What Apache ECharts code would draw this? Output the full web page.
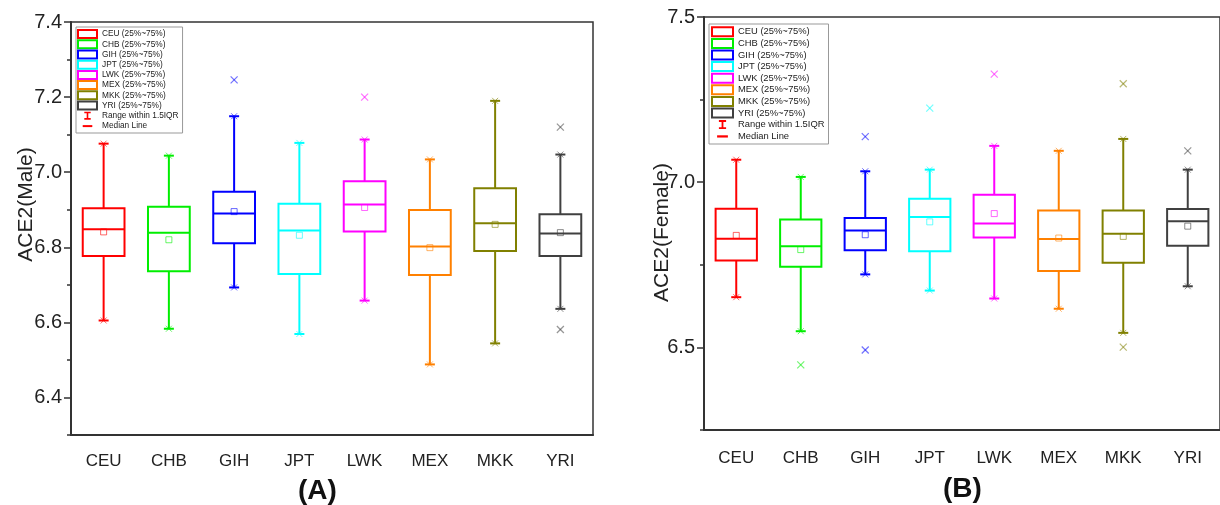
<!DOCTYPE html>
<html>
<head>
<meta charset="utf-8">
<script src="https://cdn.jsdelivr.net/npm/echarts@6/dist/echarts.min.js"></script>
<style>
html, body { margin: 0; padding: 0; background: #fff; }
#chart { width: 1220px; height: 505px; }
</style>
</head>
<body>
<div id="chart"></div>
<script>
// 分组
const groups = ['CEU', 'CHB', 'GIH', 'JPT', 'LWK', 'MEX', 'MKK', 'YRI']
const groupColors = ['#ff0000', '#00ee00', '#0000ff', '#00ffff', '#ff00ff', '#ff8000', '#808000', '#404040']

// 每组: [下须, Q1, 中位数, Q3, 上须]
const maleBoxes = [
	[6.605, 6.777, 6.848, 6.904, 7.076],
	[6.583, 6.736, 6.839, 6.908, 7.044],
	[6.693, 6.811, 6.890, 6.948, 7.149],
	[6.569, 6.729, 6.845, 6.916, 7.078],
	[6.658, 6.842, 6.914, 6.976, 7.087],
	[6.488, 6.726, 6.802, 6.899, 7.034],
	[6.544, 6.790, 6.864, 6.957, 7.190],
	[6.636, 6.777, 6.837, 6.888, 7.047]
]
const maleMeans = [6.841, 6.820, 6.895, 6.832, 6.906, 6.799, 6.861, 6.839]
const maleOutliers = [[], [], [7.246], [], [7.200], [], [], [7.120, 6.581]]

const femaleBoxes = [
	[6.652, 6.763, 6.829, 6.920, 7.068],
	[6.549, 6.744, 6.806, 6.887, 7.016],
	[6.721, 6.794, 6.854, 6.892, 7.033],
	[6.672, 6.791, 6.895, 6.950, 7.038],
	[6.648, 6.833, 6.875, 6.962, 7.110],
	[6.617, 6.731, 6.828, 6.914, 7.095],
	[6.544, 6.756, 6.844, 6.914, 7.131],
	[6.685, 6.808, 6.882, 6.919, 7.038]
]
const femaleMeans = [6.839, 6.796, 6.841, 6.880, 6.905, 6.831, 6.836, 6.867]
const femaleOutliers = [[], [6.447], [7.138, 6.492], [7.224], [7.327], [], [7.298, 6.501], [7.095]]

// 刻度
const maleTicks = [6.4, 6.6, 6.8, 7.0, 7.2, 7.4]
const femaleTicks = [6.5, 7.0, 7.5]

const legendNames = groups.map(g => g + ' (25%~75%)')
const rangeName = 'Range within 1.5IQR'
const medianName = 'Median Line'
const FONT = 'Liberation Sans, Arial, sans-serif'

const chart = echarts.init(document.getElementById('chart'))

// 箱体 + 须 + 中位线 + 均值
function renderBox(params, api) {
	const color = api.visual('color')
	const cat = api.value(0)
	const x = api.coord([cat, api.value(3)])[0]
	const y = k => api.coord([cat, api.value(k)])[1]
	const half = api.size([1, 0])[0] * 0.32
	const cap = 5
	const line = (x1, y1, x2, y2, w, op) => ({
		type: 'line',
		shape: { x1, y1, x2, y2 },
		style: { stroke: color, lineWidth: w || 2, opacity: op == null ? 1 : op }
	})
	const cross = (cx, cy, s) => [
		line(cx - s, cy - s, cx + s, cy + s, 1, 0.6),
		line(cx - s, cy + s, cx + s, cy - s, 1, 0.6)
	]
	const yLow = y(1), yQ1 = y(2), yMed = y(3), yQ3 = y(4), yHigh = y(5), yMean = y(6)
	return {
		type: 'group',
		children: [
			line(x, yQ3, x, yHigh),
			line(x, yQ1, x, yLow),
			line(x - cap, yHigh, x + cap, yHigh),
			line(x - cap, yLow, x + cap, yLow),
			...cross(x, yHigh, 3),
			...cross(x, yLow, 3),
			{
				type: 'rect',
				shape: { x: x - half, y: yQ3, width: half * 2, height: yQ1 - yQ3 },
				style: { stroke: color, lineWidth: 2, fill: 'rgba(0,0,0,0)' }
			},
			line(x - half, yMed, x + half, yMed),
			{
				type: 'rect',
				shape: { x: x - 3, y: yMean - 3, width: 6, height: 6 },
				style: { stroke: color, lineWidth: 1, fill: 'rgba(0,0,0,0)', opacity: 0.6 }
			}
		]
	}
}

// 离群点 ×
function renderOutlier(params, api) {
	const color = api.visual('color')
	const p = api.coord([api.value(0), api.value(1)])
	const s = 3.5
	const st = { stroke: color, lineWidth: 1.2, opacity: 0.55 }
	return {
		type: 'group',
		children: [
			{ type: 'line', shape: { x1: p[0] - s, y1: p[1] - s, x2: p[0] + s, y2: p[1] + s }, style: st },
			{ type: 'line', shape: { x1: p[0] - s, y1: p[1] + s, x2: p[0] + s, y2: p[1] - s }, style: st }
		]
	}
}

function panelSeries(boxes, means, outliers, idx) {
	const list = groups.map((g, i) => ({
		name: legendNames[i],
		type: 'custom',
		xAxisIndex: idx,
		yAxisIndex: idx * 2,
		color: groupColors[i],
		renderItem: renderBox,
		encode: { x: 0, y: [1, 2, 3, 4, 5, 6] },
		data: [[i, ...boxes[i], means[i]]],
		z: 3
	}))
	const pts = []
	outliers.forEach((arr, i) => arr.forEach(v => pts.push({ value: [i, v], itemStyle: { color: groupColors[i] } })))
	list.push({
		name: 'outliers',
		type: 'custom',
		xAxisIndex: idx,
		yAxisIndex: idx * 2,
		renderItem: renderOutlier,
		encode: { x: 0, y: 1 },
		data: pts,
		z: 3
	})
	return list
}

function legendItems() {
	const items = legendNames.map((n, i) => ({
		name: n,
		icon: 'rect',
		itemStyle: { color: '#fff', borderColor: groupColors[i], borderWidth: 2 }
	}))
	items.push({
		name: rangeName,
		icon: 'path://M0,0 M6,0 H14 V2 H11 V8 H14 V10 H6 V8 H9 V2 H6 Z M20,10',
		itemStyle: { color: '#ff0000', borderWidth: 0 }
	})
	items.push({
		name: medianName,
		icon: 'path://M0,0 M4,4 H16 V6.5 H4 Z M20,10',
		itemStyle: { color: '#ff0000', borderWidth: 0 }
	})
	return items
}

function xAxis(idx, margin) {
	return {
		type: 'category',
		gridIndex: idx,
		data: groups,
		axisLine: { lineStyle: { color: '#333', width: 2 } },
		axisTick: { alignWithLabel: true, length: 6, lineStyle: { color: '#333', width: 2 } },
		axisLabel: { fontSize: 17, color: '#222', margin: margin, fontFamily: FONT },
		splitLine: { show: false }
	}
}

function yAxes(idx, min, max, step, ticks, name, nameGap, namePad) {
	return [
		{
			type: 'value',
			gridIndex: idx,
			min: min,
			max: max,
			interval: step,
			name: name,
			nameLocation: 'middle',
			nameGap: nameGap,
			nameMoveOverlap: false,
			nameTextStyle: { fontSize: 21, color: '#222', fontFamily: FONT, padding: namePad },
			axisLine: { show: true, lineStyle: { color: '#333', width: 2 } },
			axisTick: { show: true, length: 7, customValues: ticks, lineStyle: { color: '#333', width: 1.5 } },
			axisLabel: {
				customValues: ticks,
				fontSize: 20,
				color: '#222',
				margin: 9,
				fontFamily: FONT,
				formatter: v => v.toFixed(1)
			},
			splitLine: { show: false }
		},
		{
			type: 'value',
			gridIndex: idx,
			position: 'left',
			min: min,
			max: max,
			interval: step,
			axisLine: { show: false },
			axisTick: { show: true, length: 4, lineStyle: { color: '#333', width: 1.5 } },
			axisLabel: { show: false },
			splitLine: { show: false }
		}
	]
}

const legendBase = {
	orient: 'vertical',
	selectedMode: false,
	itemGap: 0,
	backgroundColor: '#fff',
	borderColor: '#999',
	borderWidth: 1,
	data: legendItems()
}

const option = {
	animation: false,
	textStyle: { fontFamily: FONT },
	title: [
		{ text: '(A)', left: 298, top: 477, padding: 0, textStyle: { fontSize: 28, fontWeight: 'bold', color: '#111', fontFamily: FONT } },
		{ text: '(B)', left: 943, top: 475, padding: 0, textStyle: { fontSize: 28, fontWeight: 'bold', color: '#111', fontFamily: FONT } }
	],
	legend: [
		Object.assign({}, legendBase, {
			left: 76, top: 27, padding: [2, 4, 2, 1],
			itemWidth: 19, itemHeight: 8,
			textStyle: { fontSize: 8.3, lineHeight: 10.2, color: '#222', fontFamily: FONT }
		}),
		Object.assign({}, legendBase, {
			left: 709, top: 24, padding: [2, 4, 2, 2],
			itemWidth: 21, itemHeight: 9,
			textStyle: { fontSize: 9.4, lineHeight: 11.6, color: '#222', fontFamily: FONT }
		})
	],
	grid: [
		{ left: 71, top: 22, width: 522, height: 413, show: true, borderColor: '#333', borderWidth: 1.5 },
		{ left: 704, top: 17, width: 530, height: 413, show: true, borderColor: '#333', borderWidth: 1.5 }
	],
	xAxis: [xAxis(0, 18), xAxis(1, 20)],
	yAxis: [
		...yAxes(0, 6.3, 7.4, 0.1, maleTicks, 'ACE2(Male)', 34, [0, 0, 0, 48]),
		...yAxes(1, 6.25, 7.5, 0.25, femaleTicks, 'ACE2(Female)', 31, [0, 18, 0, 0])
	],
	series: [
		...panelSeries(maleBoxes, maleMeans, maleOutliers, 0),
		...panelSeries(femaleBoxes, femaleMeans, femaleOutliers, 1),
		{ name: rangeName, type: 'line', data: [] },
		{ name: medianName, type: 'line', data: [] }
	]
}

chart.setOption(option)
window.addEventListener('resize', function () {
	chart.resize()
})
</script>
</body>
</html>
